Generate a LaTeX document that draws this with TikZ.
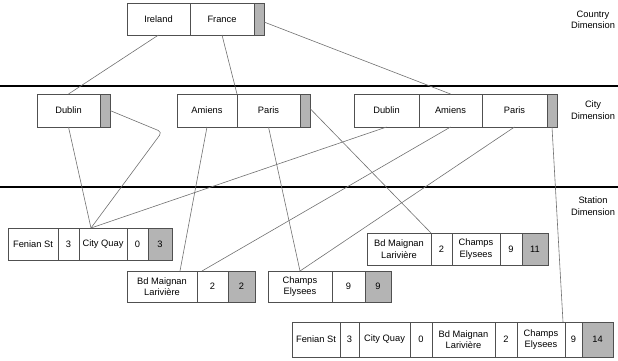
\documentclass[tikz,border=0pt]{standalone}
\usepackage{fontspec}
\setmainfont{Liberation Sans}
\usetikzlibrary{calc}
\definecolor{boxc}{HTML}{505050}
\definecolor{linkc}{HTML}{707070}
\definecolor{grayc}{HTML}{B4B4B4}
\tikzset{
  cell/.style={draw=boxc, line width=0.7pt, inner sep=0pt, outer sep=0pt, anchor=north west,
    align=center, font=\fontsize{9.3}{11.5}\selectfont},
  gcell/.style={cell, fill=grayc},
  link/.style={draw=linkc, line width=0.6pt},
  sep/.style={draw=black, line width=2.2pt},
  dimlabel/.style={align=center, font=\fontsize{9.3}{11.5}\selectfont},
}
\newcommand{\cel}[6][cell]{\node[#1, minimum width=#4pt, minimum height=#5pt] (#2) at #3 {#6};}
\begin{document}
\begin{tikzpicture}[x=1pt, y=-1pt]
\useasboundingbox (0,0) rectangle (618,360);
% separators
\coordinate (s1l) at (0,86); \coordinate (s1r) at (618,86);
\coordinate (s2l) at (0,187); \coordinate (s2r) at (618,187);
\draw[sep] (s1l) -- (s1r);
\draw[sep] (s2l) -- (s2r);
% labels
\node[dimlabel] (lcountry) at (593,20) {Country\\Dimension};
\node[dimlabel] (lcity) at (593,110) {City\\Dimension};
\node[dimlabel] (lstation) at (593,206) {Station\\Dimension};
% country
\cel{ire}{(127,3)}{63}{32}{Ireland}
\cel{fra}{(190,3)}{64}{32}{France}
\cel[gcell]{g0}{(254,3)}{10}{32}{}
% city
\cel{dubA}{(37,94)}{63}{33}{Dublin}
\cel[gcell]{gA}{(100,94)}{10}{33}{}
\cel{amA}{(177,94)}{60}{33}{Amiens}
\cel{parA}{(237,94)}{63}{33}{Paris}
\cel[gcell]{gB}{(300,94)}{10}{33}{}
\cel{dubB}{(354,94)}{65}{33}{Dublin}
\cel{amB}{(419,94)}{63}{33}{Amiens}
\cel{parB}{(482,94)}{65}{33}{Paris}
\cel[gcell]{gC}{(547,94)}{10}{33}{}
% station box A
\cel{fenA}{(8,228)}{50}{32}{Fenian St}
\cel{n3A}{(58,228)}{21}{32}{3}
\cel{cqA}{(79,228)}{48}{32}{City Quay}
\cel{n0A}{(127,228)}{21}{32}{0}
\cel[gcell]{gA3}{(148,228)}{24}{32}{3}
% box B
\cel{bdB}{(127,271)}{70}{31}{Bd Maignan\\Larivière}
\cel{n2B}{(197,271)}{31}{31}{2}
\cel[gcell]{gB2}{(228,271)}{27}{31}{2}
% box C
\cel{chC}{(268,271)}{64}{31}{Champs\\Elysees}
\cel{n9C}{(332,271)}{33}{31}{9}
\cel[gcell]{gC9}{(365,271)}{26}{31}{9}
% box D
\cel{bdD}{(367,233)}{64}{32}{Bd Maignan\\Larivière}
\cel{n2D}{(431,233)}{21}{32}{2}
\cel{chD}{(452,233)}{48}{32}{Champs\\Elysees}
\cel{n9D}{(500,233)}{22}{32}{9}
\cel[gcell]{gD}{(522,233)}{26}{32}{11}
% box E
\cel{fenE}{(292,322)}{48}{35}{Fenian St}
\cel{n3E}{(340,322)}{19}{35}{3}
\cel{cqE}{(359,322)}{51}{35}{City Quay}
\cel{n0E}{(410,322)}{22}{35}{0}
\cel{bdE}{(432,322)}{63}{35}{Bd Maignan\\Larivière}
\cel{n2E}{(495,322)}{22}{35}{2}
\cel{chE}{(517,322)}{48}{35}{Champs\\Elysees}
\cel{n9E}{(565,322)}{17}{35}{9}
\cel[gcell]{gE}{(582,322)}{31}{35}{14}
% connection points
\coordinate (hubA) at ($(cqA.north west)+(12,0)$);
\coordinate (bend) at (162,132);
\coordinate (pB1) at ($(bdB.north west)+(53,0)$);
\coordinate (pB2) at ($(bdB.north east)+(5,0)$);
\coordinate (pE) at ($(chE.north east)+(-2,0)$);
\coordinate (gBout) at ($(gB.east)+(0,-2)$);
% country -> city
\draw[link] (ire.south) -- (dubA.north);
\draw[link] (fra.south) -- (parA.north west);
\draw[link] ($(g0.east)+(0,3)$) -- (amB.north);
% city -> station
\draw[link, rounded corners=4pt] (gA.east) -- (bend) -- (hubA);
\draw[link] (dubA.south) -- (hubA);
\draw[link] (dubB.south) -- (hubA);
\draw[link] (amA.south) -- (pB1);
\draw[link] (parA.south) -- (chC.north);
\draw[link] (gBout) -- (bdD.north east);
\draw[link] (amB.south) -- (pB2);
\draw[link] (parB.south) -- (chC.north);
\draw[link] (gC.south) -- (pE);
\end{tikzpicture}
\end{document}
